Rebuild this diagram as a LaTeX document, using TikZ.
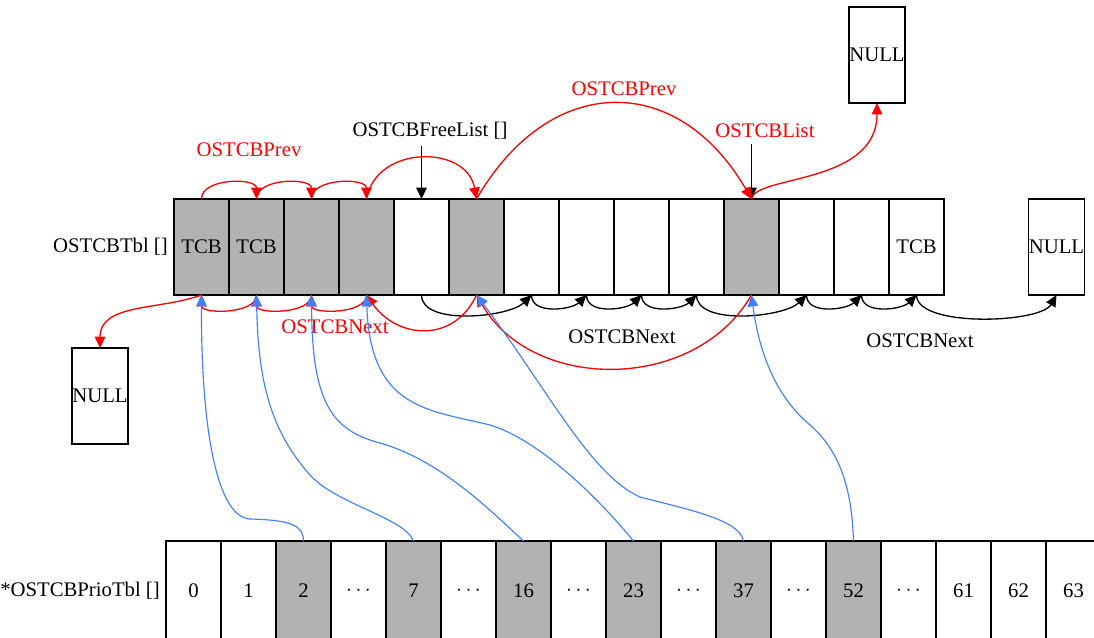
\documentclass[tikz,border=0pt]{standalone}
\usepackage{fontspec}
\setmainfont{Liberation Serif}
\usetikzlibrary{arrows.meta}
\definecolor{ptrblue}{RGB}{64,128,255}
\tikzset{
  cell/.style={draw, line width=0.65pt, minimum width=1.1cm, minimum height=1.92cm, inner sep=0pt, outer sep=0pt},
  used/.style={fill=black!30},
  free/.style={fill=white},
  nullbox/.style={draw, line width=0.65pt, fill=white, minimum width=1.12cm, minimum height=1.92cm, inner sep=0pt, outer sep=0pt},
  redtext/.style={text=red},
  nextarrow/.style={draw=black, line width=0.75pt, -{Triangle[length=6.5pt,width=6pt]}},
  linkarrow/.style={draw=red, line width=0.75pt, -{Triangle[length=6.5pt,width=6pt]}},
  prioarrow/.style={draw=ptrblue, line width=0.65pt, -{Triangle[length=6.5pt,width=6pt]}},
}
\begin{document}
\begin{tikzpicture}[x=0.02cm, y=0.02cm, font=\fontsize{11.8}{14}\selectfont]
\useasboundingbox (0,0) rectangle (1094,-637);
% task control block table
\foreach \i/\s/\txt in {0/used/TCB,1/used/TCB,2/used/,3/used/,4/free/,5/used/,6/free/,7/free/,8/free/,9/free/,10/used/,11/free/,12/free/,13/free/TCB}
  \node[cell,\s] (t\i) at ({201.5+55*\i},-247) {\txt};
\node[anchor=east] (tbllabel) at (t0.west) {OSTCBTbl []};
% priority table
\foreach \j/\s/\txt in {0/free/0,1/free/1,2/used/2,3/free/$\cdots$,4/used/7,5/free/$\cdots$,6/used/16,7/free/$\cdots$,8/used/23,9/free/$\cdots$,10/used/37,11/free/$\cdots$,12/used/52,13/free/$\cdots$,14/free/61,15/free/62,16/free/63}
  \node[cell,\s,minimum height=2cm] (p\j) at ({193.5+55*\j},-591) {\txt};
\node[anchor=east] (priolabel) at (p0.west) {*OSTCBPrioTbl []};
% end markers
\node[nullbox] (nulltop) at (877,-55) {NULL};
\node[nullbox] (nullright) at (1056.5,-247) {NULL};
\node[nullbox] (nullleft) at (100,-396) {NULL};
% labels
\node[redtext] (prevlabelA) at (249,-150) {OSTCBPrev};
\node[redtext] (prevlabelB) at (624,-89) {OSTCBPrev};
\node[redtext] (listlabel) at (765,-131) {OSTCBList};
\node (freelabel) at (430,-131) {OSTCBFreeList []};
\node[redtext] (nextlabelA) at (335,-327) {OSTCBNext};
\node (nextlabelB) at (622,-337) {OSTCBNext};
\node (nextlabelC) at (920,-341) {OSTCBNext};
% free list
\draw[nextarrow] (freelabel.south -| t4.north) -- (t4.north);
\draw[nextarrow] (t4.south) to[out=-90,in=-135,looseness=0.73] (t6.south);
\draw[nextarrow] (t6.south) to[out=-90,in=-135,looseness=0.95] (t7.south);
\draw[nextarrow] (t7.south) to[out=-90,in=-135,looseness=0.95] (t8.south);
\draw[nextarrow] (t8.south) to[out=-90,in=-135,looseness=0.95] (t9.south);
\draw[nextarrow] (t9.south) to[out=-90,in=-135,looseness=0.73] (t11.south);
\draw[nextarrow] (t11.south) to[out=-90,in=-135,looseness=0.95] (t12.south);
\draw[nextarrow] (t12.south) to[out=-90,in=-135,looseness=0.95] (t13.south);
\draw[nextarrow] (t13.south) to[out=-90,in=-120,looseness=0.6] (nullright.south);
% used list
\draw[nextarrow] (listlabel.south -| t10.north) -- (t10.north);
\draw[linkarrow] (t0.north) to[out=90,in=90] (t1.north);
\draw[linkarrow] (t1.north) to[out=90,in=90] (t2.north);
\draw[linkarrow] (t2.north) to[out=90,in=90] (t3.north);
\draw[linkarrow] (t3.north) to[out=80,in=100,looseness=1.29] (t5.north);
\draw[linkarrow] (t5.north) to[out=60,in=120,looseness=1.37] (t10.north);
\draw[linkarrow] (t10.north) .. controls (755,-175) and (877,-185) .. (nulltop.south);
\draw[linkarrow] (t10.south) to[out=-120,in=-60,looseness=1.05] (t5.south);
\draw[linkarrow] (t5.south) to[out=-115,in=-55,looseness=1.25] (t3.south);
\draw[linkarrow] (t3.south) to[out=-90,in=-90,looseness=0.9] (t2.south);
\draw[linkarrow] (t2.south) to[out=-90,in=-90,looseness=0.9] (t1.south);
\draw[linkarrow] (t1.south) to[out=-90,in=-90,looseness=0.9] (t0.south);
\draw[linkarrow] (t0.south) to[out=-160,in=90] (nullleft.north);
% priority pointers
\draw[prioarrow] (p2.north) .. controls (303.5,-525) and (290,-520) .. (250,-519)
  .. controls (215,-517) and (201,-420) .. (t0.south);
\draw[prioarrow] (p4.north) .. controls (405,-518) and (336,-504) .. (310,-475)
  .. controls (270,-430) and (258,-380) .. (t1.south);
\draw[prioarrow] (p6.north) .. controls (490,-510) and (440,-460) .. (380,-443)
  .. controls (330,-430) and (312,-400) .. (t2.south);
\draw[prioarrow] (p8.north) .. controls (600,-500) and (540,-440) .. (490,-425)
  .. controls (430,-410) and (370,-410) .. (t3.south);
\draw[prioarrow] (p10.north) .. controls (740,-520) and (690,-510) .. (640,-497)
  .. controls (590,-475) and (545,-385) .. (t5.south);
\draw[prioarrow] (p12.north) .. controls (852,-500) and (845,-455) .. (810,-425)
  .. controls (780,-400) and (760,-360) .. (t10.south);
\end{tikzpicture}
\end{document}
